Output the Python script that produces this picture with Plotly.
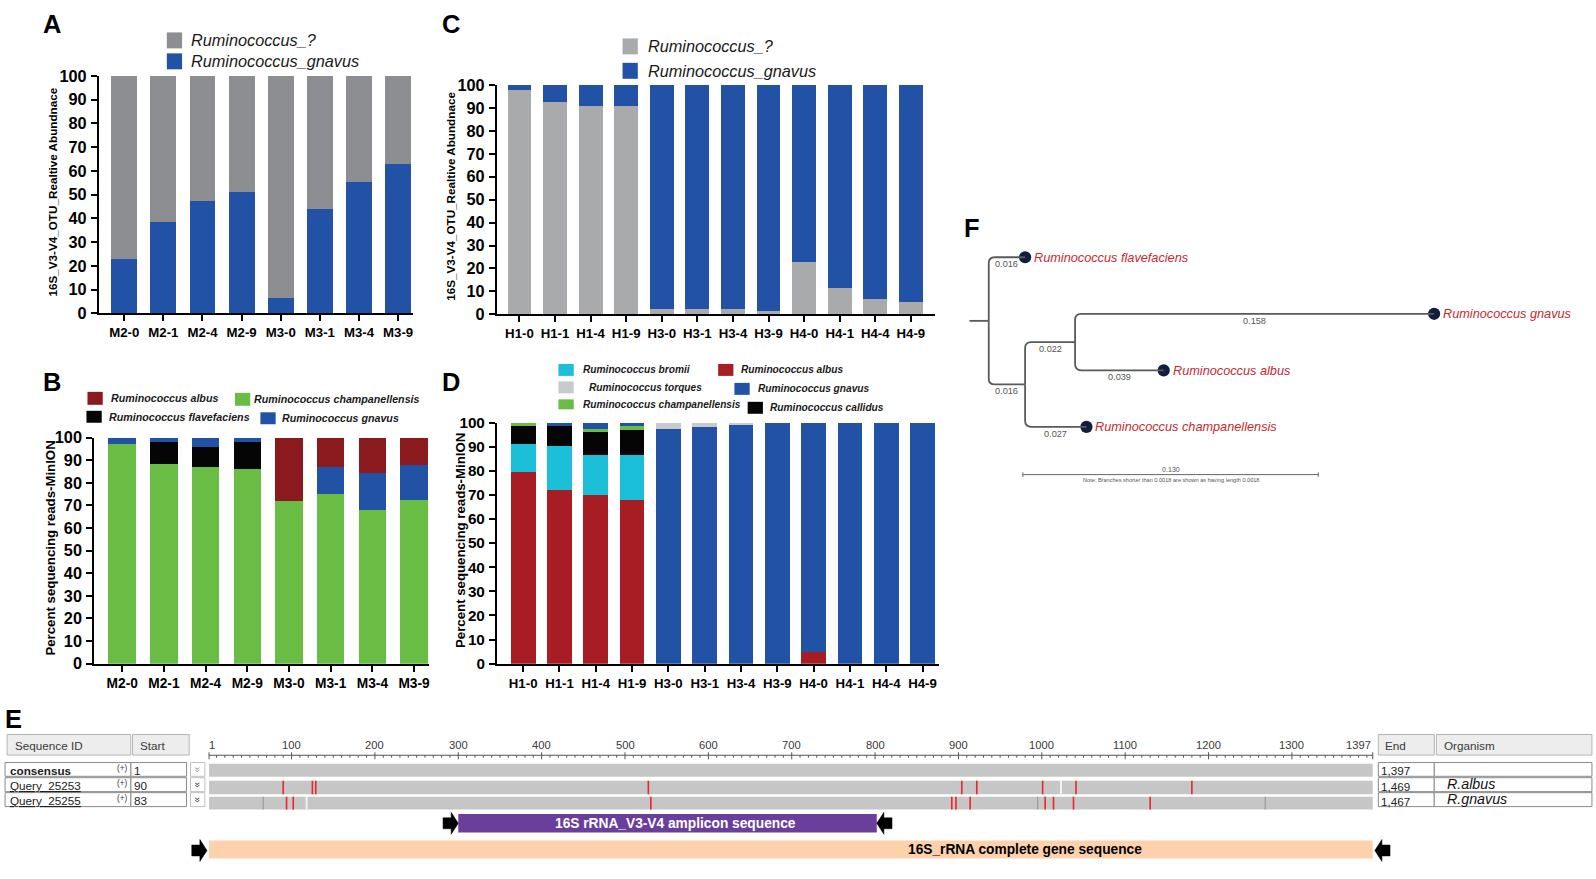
import plotly.graph_objects as go

# ====================== DATA ======================
# Panel A
a_samples = ["M2-0", "M2-1", "M2-4", "M2-9", "M3-0", "M3-1", "M3-4", "M3-9"]
a_gnavus = [23, 38.5, 47.5, 51, 6.5, 44, 55.5, 63]
a_unknown = [77, 61.5, 52.5, 49, 93.5, 56, 44.5, 37]

# Panel B
b_samples = ["M2-0", "M2-1", "M2-4", "M2-9", "M3-0", "M3-1", "M3-4", "M3-9"]
b_champ = [97, 88.5, 87, 86, 72, 75, 68, 72.5]
b_flav = [0, 9.5, 9, 12, 0, 0, 0, 0]
b_gnavus = [3, 2, 4, 2, 0, 12, 16.5, 15.5]
b_albus = [0, 0, 0, 0, 28, 13, 15.5, 12]

# Panel C
c_samples = ["H1-0", "H1-1", "H1-4", "H1-9", "H3-0", "H3-1", "H3-4", "H3-9",
             "H4-0", "H4-1", "H4-4", "H4-9"]
c_unknown = [98, 92.5, 91, 91, 2.5, 2.5, 2.5, 1.5, 23, 11.5, 6.5, 5.5]
c_gnavus = [2, 7.5, 9, 9, 97.5, 97.5, 97.5, 98.5, 77, 88.5, 93.5, 94.5]

# Panel D
d_samples = ["H1-0", "H1-1", "H1-4", "H1-9", "H3-0", "H3-1", "H3-4", "H3-9",
             "H4-0", "H4-1", "H4-4", "H4-9"]
d_albus = [79.5, 72, 70, 68, 0, 0, 0, 0, 5, 0, 0, 0]
d_bromii = [11.5, 18.5, 16.5, 18.5, 0, 0, 0, 0, 0, 0, 0, 0]
d_callidus = [7.5, 8, 9.5, 10.5, 0, 0, 0, 0, 0, 0, 0, 0]
d_champ = [1.5, 0, 1.5, 1.5, 0, 0, 0, 0, 0, 0, 0, 0]
d_gnavus = [0, 1.5, 2.5, 1.5, 97.5, 98, 99.5, 100, 95, 100, 100, 100]
d_torques = [0, 0, 0, 0, 2.5, 2, 0.5, 0, 0, 0, 0, 0]

# Panel F (tree)
tree_child = ["flav", "n2", "n3", "gnavus", "albus", "champ"]
tree_parent = ["root", "root", "n2", "n3", "n3", "n2"]
tree_len = [0.016, 0.016, 0.022, 0.158, 0.039, 0.027]
tree_leaves = ["flav", "gnavus", "albus", "champ"]
tree_leaf_labels = ["Ruminococcus flavefaciens", "Ruminococcus gnavus",
                    "Ruminococcus albus", "Ruminococcus champanellensis"]
tree_scale_bar = 0.130

# Panel E (alignment)
ruler_ticks = [1, 100, 200, 300, 400, 500, 600, 700, 800, 900, 1000, 1100, 1200, 1300, 1397]
aln_ids = ["consensus", "Query_25253", "Query_25255"]
aln_strand = ["(+)", "(+)", "(+)"]
aln_start = ["1", "90", "83"]
aln_end = ["1,397", "1,469", "1,467"]
aln_org = ["", "R.albus", "R.gnavus"]
aln_length = 1397
q1_mismatch = [90, 125, 129, 528, 904, 922, 1001, 1041, 1180]
q1_light = [1023]
q2_mismatch = [94, 102, 531, 892, 897, 914, 1004, 1014, 1038, 1130]
q2_dark = [66, 995, 1268]
q2_light = [118]
amplicon = [300, 802]
gene = [1, 1397]
gene_label_pos = 980

# ====================== HELPERS ======================
W, H = 1596, 879
VW = 1568.0
VH = H * VW / W
K = W / VW
FONT = "Liberation Sans, Arial, Helvetica, sans-serif"


def px(x):
    return x / VW


def py(y):
    return 1 - y / VH


def fs(s):
    return s * K


fig = go.Figure()
shapes = []
annos = []


def rect_paper(x0, y0, x1, y1, fill, line_color=None, lw=0):
    shapes.append(dict(type="rect", xref="paper", yref="paper",
                       x0=px(x0), x1=px(x1), y0=py(y1), y1=py(y0),
                       fillcolor=fill,
                       line=dict(color=line_color or fill, width=lw)))


def text_paper(x, y, text, size, color="black", xanchor="left", angle=0, yanchor="middle"):
    annos.append(dict(xref="paper", yref="paper", x=px(x), y=py(y), text=text,
                      showarrow=False, xanchor=xanchor, yanchor=yanchor,
                      textangle=angle,
                      font=dict(family=FONT, size=fs(size), color=color)))


# ====================== BAR PANELS ======================
def axref(n, kind):
    return kind if n == 1 else f"{kind}{n}"


def add_bar(n, cats, vals, color, width):
    fig.add_trace(go.Bar(x=cats, y=vals, width=width,
                         marker=dict(color=color, line=dict(width=0)),
                         xaxis=axref(n, "x"), yaxis=axref(n, "y"),
                         showlegend=False, hoverinfo="skip"))


GRAY_A = "#8d8e92"
GRAY_C = "#a8aaac"
BLUE = "#2152a6"
GREEN = "#69bd45"
ALBUS_B = "#8b1a1e"
ALBUS_D = "#a71d23"
BLACK = "#050505"
CYAN = "#1bbfd7"
TORQ = "#c9cacc"

add_bar(1, a_samples, a_gnavus, BLUE, 0.66)
add_bar(1, a_samples, a_unknown, GRAY_A, 0.66)

add_bar(2, b_samples, b_champ, GREEN, 0.66)
add_bar(2, b_samples, b_flav, BLACK, 0.66)
add_bar(2, b_samples, b_gnavus, BLUE, 0.66)
add_bar(2, b_samples, b_albus, ALBUS_B, 0.66)

add_bar(3, c_samples, c_unknown, GRAY_C, 0.67)
add_bar(3, c_samples, c_gnavus, BLUE, 0.67)

add_bar(4, d_samples, d_albus, ALBUS_D, 0.68)
add_bar(4, d_samples, d_bromii, CYAN, 0.68)
add_bar(4, d_samples, d_callidus, BLACK, 0.68)
add_bar(4, d_samples, d_champ, GREEN, 0.68)
add_bar(4, d_samples, d_gnavus, BLUE, 0.68)
add_bar(4, d_samples, d_torques, TORQ, 0.68)

bar_panels = [
    dict(n=1, xd=(97.3, 406), yd=(67.1, 305.2), xr=[-0.645, 7.38], yt=16, xt=13,
         title="16S_V3-V4_OTU_Realtive Abundnace", tx=52, tfs=11.5),
    dict(n=2, xd=(92.7, 421.8), yd=(430, 656.6), xr=[-0.67, 7.36], yt=16, xt=13.5,
         title="Percent sequencing reads-MinION", tx=50, tfs=13),
    dict(n=3, xd=(488.6, 919.6), yd=(76.3, 306.2), xr=[-0.63, 11.69], yt=16, xt=13,
         title="16S_V3-V4_OTU_Realtive Abundnace", tx=443.5, tfs=11.5),
    dict(n=4, xd=(488.6, 923), yd=(414.9, 656.6), xr=[-0.72, 11.45], yt=15, xt=13,
         title="Percent sequencing reads-MinION", tx=452, tfs=13),
]

layout_axes = {}
for p in bar_panels:
    n = p["n"]
    xn = "xaxis" if n == 1 else f"xaxis{n}"
    yn = "yaxis" if n == 1 else f"yaxis{n}"
    layout_axes[xn] = dict(domain=[px(p["xd"][0]), px(p["xd"][1])], anchor=axref(n, "y"),
                           type="category", range=p["xr"], showline=True,
                           linecolor="black", linewidth=2.2, ticks="outside", ticklen=6,
                           tickwidth=2, tickcolor="black", showgrid=False, zeroline=False,
                           tickfont=dict(family=FONT, size=fs(p["xt"]), color="black",
                                         weight="bold"),
                           fixedrange=True)
    layout_axes[yn] = dict(domain=[py(p["yd"][1]), py(p["yd"][0])], anchor=axref(n, "x"),
                           range=[0, 100], tick0=0, dtick=10, showline=True,
                           linecolor="black", linewidth=2.2, ticks="outside", ticklen=6,
                           tickwidth=2, tickcolor="black", showgrid=False, zeroline=False,
                           tickfont=dict(family=FONT, size=fs(p["yt"]), color="black",
                                         weight="bold"),
                           ticklabelstandoff=1, fixedrange=True)
    text_paper(p["tx"], (p["yd"][0] + p["yd"][1]) / 2 - 3, "<b>" + p["title"] + "</b>",
               p["tfs"], angle=-90, xanchor="center")


# Legends (manual)
def legend_item(xs, yc, color, label, size, sqw, sqh, tx, bold):
    rect_paper(xs, yc - sqh / 2, xs + sqw, yc + sqh / 2, color)
    t = f"<i>{label}</i>"
    if bold:
        t = f"<b>{t}</b>"
    text_paper(tx, yc, t, size, color="#1a1a1a")


legend_item(164, 31.5, GRAY_A, "Ruminococcus_?", 16, 15, 16, 185.5, False)
legend_item(164, 52.5, BLUE, "Ruminococcus_gnavus", 16, 15, 16, 185.5, False)

legend_item(612, 37.5, GRAY_C, "Ruminococcus_?", 16, 15, 16, 635, False)
legend_item(612, 62, BLUE, "Ruminococcus_gnavus", 16, 15, 16, 635, False)

legend_item(86, 390.5, ALBUS_B, "Ruminococcus albus", 10.5, 15, 13, 107, True)
legend_item(231, 391.5, GREEN, "Ruminococcus champanellensis", 10.5, 15, 13, 248, True)
legend_item(85, 409, BLACK, "Ruminococcus flavefaciens", 10.5, 15, 12, 105, True)
legend_item(256, 410.5, BLUE, "Ruminococcus gnavus", 10.5, 15, 12, 275, True)

legend_item(549, 362, CYAN, "Ruminococcus bromii", 10, 15, 12, 571, True)
legend_item(706, 362, ALBUS_D, "Ruminococcus albus", 10, 15, 12, 726, True)
legend_item(549, 379.5, TORQ, "Ruminococcus torques", 10, 15, 12, 577, True)
legend_item(722, 381, BLUE, "Ruminococcus gnavus", 10, 15, 12, 743, True)
legend_item(549, 396.5, GREEN, "Ruminococcus champanellensis", 10, 15, 10, 571, True)
legend_item(735, 400, BLACK, "Ruminococcus callidus", 10, 15, 12, 755, True)

# Panel letters
for letter, x, y in [("A", 40, 15), ("B", 40, 374), ("C", 433, 15), ("D", 433, 374),
                     ("E", 3, 712), ("F", 946, 220)]:
    text_paper(x, y, f"<b>{letter}</b>", 25)

# ====================== PANEL F: TREE ======================
T_X0 = 972.0      # view px of root
T_SC = 2234.0     # view px per substitution unit
T_Y0 = 249.0      # view px of first leaf
T_DY = 56.7       # view px between leaves

layout_axes["xaxis5"] = dict(domain=[0, 1], range=[(0 - T_X0) / T_SC, (VW - T_X0) / T_SC],
                             visible=False, anchor="y5", fixedrange=True)
layout_axes["yaxis5"] = dict(domain=[0, 1], range=[(VH - T_Y0) / T_DY, (0 - T_Y0) / T_DY],
                             visible=False, anchor="x5", fixedrange=True)

nx = {"root": 0.0}
for c, p, l in zip(tree_child, tree_parent, tree_len):
    nx[c] = nx[p] + l
children = {}
for c, p in zip(tree_child, tree_parent):
    children.setdefault(p, []).append(c)
ny = {leaf: float(i) for i, leaf in enumerate(tree_leaves)}


def gety(n):
    if n not in ny:
        ys = [gety(c) for c in children[n]]
        ny[n] = sum(ys) / len(ys)
    return ny[n]


gety("root")

rx = 6 / T_SC
ry = 6 / T_DY
BR = "#5a5a5a"
for c, p, l in zip(tree_child, tree_parent, tree_len):
    x0, y0, x1, y1 = nx[p], ny[p], nx[c], ny[c]
    s = 1 if y1 > y0 else -1
    path = (f"M{x0},{y0} L{x0},{y1 - s * ry} Q{x0},{y1} {x0 + rx},{y1} L{x1},{y1}")
    shapes.append(dict(type="path", xref="x5", yref="y5", path=path,
                       line=dict(color=BR, width=1.8)))
    annos.append(dict(xref="x5", yref="y5", x=(x0 + x1) / 2, y=y1, yshift=-7,
                      text=f"{l:.3f}", showarrow=False, xanchor="center", yanchor="middle",
                      font=dict(family=FONT, size=fs(9), color="#555555")))
# root stub
shapes.append(dict(type="line", xref="x5", yref="y5", x0=-19 / T_SC, x1=0,
                   y0=ny["root"], y1=ny["root"], line=dict(color=BR, width=1.8)))

fig.add_trace(go.Scatter(x=[nx[l] for l in tree_leaves], y=[ny[l] for l in tree_leaves],
                         mode="markers", xaxis="x5", yaxis="y5",
                         marker=dict(size=fs(12), color="#131d3f"),
                         showlegend=False, hoverinfo="skip"))
for leaf, lab in zip(tree_leaves, tree_leaf_labels):
    annos.append(dict(xref="x5", yref="y5", x=nx[leaf], y=ny[leaf], xshift=7,
                      text=f"<i>{lab}</i>", showarrow=False, xanchor="left", yanchor="middle",
                      font=dict(family=FONT, size=fs(12.5), color="#c7282e")))

# scale bar
sb_x0 = nx["n2"] - 0.001
sb_y = (467 - T_Y0) / T_DY
shapes.append(dict(type="line", xref="x5", yref="y5", x0=sb_x0, x1=sb_x0 + tree_scale_bar,
                   y0=sb_y, y1=sb_y, line=dict(color="#666666", width=1)))
for xe in (sb_x0, sb_x0 + tree_scale_bar):
    shapes.append(dict(type="line", xref="x5", yref="y5", x0=xe, x1=xe,
                       y0=sb_y - 0.04, y1=sb_y + 0.04, line=dict(color="#666666", width=1)))
annos.append(dict(xref="x5", yref="y5", x=sb_x0 + tree_scale_bar / 2, y=sb_y, yshift=5,
                  text=f"{tree_scale_bar:.3f}", showarrow=False, xanchor="center",
                  font=dict(family=FONT, size=fs(7), color="#555555")))
annos.append(dict(xref="x5", yref="y5", x=sb_x0 + tree_scale_bar / 2, y=sb_y, yshift=-5,
                  text="Note: Branches shorter than 0.0018 are shown as having length 0.0018",
                  showarrow=False, xanchor="center",
                  font=dict(family=FONT, size=fs(5.5), color="#555555")))

# ====================== PANEL E: ALIGNMENT ======================
E_X0 = 205.5      # view px of position 1
E_SC = 0.8195     # view px per base

layout_axes["xaxis6"] = dict(domain=[0, 1], range=[1 - E_X0 / E_SC, 1 + (VW - E_X0) / E_SC],
                             visible=False, anchor="y6", fixedrange=True)
layout_axes["yaxis6"] = dict(domain=[0, 1], range=[VH, 0], visible=False, anchor="x6",
                             fixedrange=True)


def rect6(x0, x1, y0, y1, fill):
    shapes.append(dict(type="rect", xref="x6", yref="y6", x0=x0, x1=x1, y0=y0, y1=y1,
                       fillcolor=fill, line=dict(width=0), layer="below"))


# header boxes
HDR_FILL = "#ededed"
HDR_LINE = "#b5b5b5"
for (x0, x1, lab, tx) in [(7, 128.5, "Sequence ID", 13), (130.3, 186, "Start", 136),
                          (1355, 1410, "End", 1360), (1412, 1565, "Organism", 1418)]:
    rect_paper(x0, 727.7, x1, 748.3, HDR_FILL, HDR_LINE, 1)
    text_paper(tx, 738.5, lab, 11.5, color="#3a3a3a")

# ruler
RUL_Y = 748.5
shapes.append(dict(type="line", xref="x6", yref="y6", x0=1, x1=aln_length, y0=RUL_Y, y1=RUL_Y,
                   line=dict(color="#555555", width=1)))
minor_path = " ".join(f"M{v},{RUL_Y} L{v},{RUL_Y + 2.5}" for v in range(10, aln_length, 10)
                      if v % 100 != 0)
shapes.append(dict(type="path", xref="x6", yref="y6", path=minor_path,
                   line=dict(color="#555555", width=1)))
major_path = " ".join(f"M{v},{RUL_Y - 3} L{v},{RUL_Y + 4}" for v in ruler_ticks)
shapes.append(dict(type="path", xref="x6", yref="y6", path=major_path,
                   line=dict(color="#555555", width=1)))
for v in ruler_ticks:
    anchor = "center"
    if v == ruler_ticks[0]:
        anchor = "left"
    if v == ruler_ticks[-1]:
        anchor = "right"
    annos.append(dict(xref="x6", yref="y6", x=v, y=738, text=str(v), showarrow=False,
                      xanchor=anchor, yanchor="middle", xshift=-2 if anchor == "left" else 0,
                      font=dict(family=FONT, size=fs(11), color="#3a3a3a")))

# rows
row_boxes = [(755.8, 769.6), (771.0, 785.0), (786.0, 800.0)]
row_bars = [(757, 770), (774, 787.5), (790, 803)]
ROW_GRAY = "#c6c6c6"
for i, (ident, strand, st, en, org) in enumerate(zip(aln_ids, aln_strand, aln_start,
                                                    aln_end, aln_org)):
    b0, b1 = row_boxes[i]
    yc = (b0 + b1) / 2
    rect_paper(5, b0, 128.7, b1, "white", "#8a8a8a", 1)
    rect_paper(128.7, b0, 183.4, b1, "white", "#8a8a8a", 1)
    rect_paper(187.3, b0, 201.4, b1, "white", "#c0c0c0", 1)
    rect_paper(1355, b0, 1410, b1, "white", "#8a8a8a", 1)
    rect_paper(1410, b0, 1565, b1, "white", "#8a8a8a", 1)
    lab = f"<b>{ident}</b>" if i == 0 else f"<u>{ident}</u>"
    text_paper(8, yc + 1, lab, 11.5, color="#222222")
    text_paper(127, yc - 1, strand, 8, color="#333333", xanchor="right")
    text_paper(129.5, yc + 1, st, 11.5, color="#222222")
    text_paper(194.3, yc, "»", 10, color="#999999" if i == 0 else "#444444",
               xanchor="center", angle=90)
    text_paper(1356, yc + 1.5, en, 11.5, color="#222222")
    if org:
        text_paper(1421, yc - 1, f"<i>{org}</i>", 14, color="#111111")
    y0, y1 = row_bars[i]
    rect6(1, aln_length, y0, y1, ROW_GRAY)


def tick_path(vals, y0, y1):
    return " ".join(f"M{v},{y0} L{v},{y1}" for v in vals)


def add_ticks(vals, row, color, width):
    y0, y1 = row_bars[row]
    shapes.append(dict(type="path", xref="x6", yref="y6", path=tick_path(vals, y0, y1),
                       line=dict(color=color, width=width)))


add_ticks(q1_light, 1, "#f2f2f2", 2)
add_ticks(q1_mismatch, 1, "#e8262b", 1.6)
add_ticks(q2_dark, 2, "#9a9a9a", 1.2)
add_ticks(q2_light, 2, "#f2f2f2", 2)
add_ticks(q2_mismatch, 2, "#e8262b", 1.6)

# feature bars
AMP_Y = (807.5, 826)
GENE_Y = (834, 852)
rect6(amplicon[0], amplicon[1], AMP_Y[0], AMP_Y[1], "#693f9b")
rect6(gene[0], gene[1], GENE_Y[0], GENE_Y[1], "#fdd1ab")
annos.append(dict(xref="x6", yref="y6", x=(amplicon[0] + amplicon[1]) / 2 + 10,
                  y=sum(AMP_Y) / 2, text="<b>16S rRNA_V3-V4 amplicon sequence</b>",
                  showarrow=False, font=dict(family=FONT, size=fs(13.5), color="white")))
annos.append(dict(xref="x6", yref="y6", x=gene_label_pos, y=sum(GENE_Y) / 2,
                  text="<b>16S_rRNA complete gene sequence</b>",
                  showarrow=False, font=dict(family=FONT, size=fs(13.5), color="black")))


def arrow(tip, yc, direction, extra=0.0):
    u = 1 / E_SC
    tip = tip + direction * extra * u
    base = tip - direction * 15 * u
    neck = tip - direction * 7 * u
    sh, hh = 5.5, 11
    pts = [(base, yc - sh), (neck, yc - sh), (neck, yc - hh), (tip, yc),
           (neck, yc + hh), (neck, yc + sh), (base, yc + sh)]
    path = "M" + " L".join(f"{a},{b}" for a, b in pts) + " Z"
    shapes.append(dict(type="path", xref="x6", yref="y6", path=path,
                       fillcolor="black", line=dict(color="black", width=0.5)))


arrow(amplicon[0], sum(AMP_Y) / 2, 1)
arrow(amplicon[1], sum(AMP_Y) / 2, -1)
arrow(gene[0], sum(GENE_Y) / 2 + 1, 1, extra=-2)
arrow(gene[1], sum(GENE_Y) / 2 + 1, -1, extra=-2)

# ====================== LAYOUT ======================
fig.update_layout(width=W, height=H, margin=dict(l=0, r=0, t=0, b=0),
                  paper_bgcolor="white", plot_bgcolor="rgba(0,0,0,0)",
                  barmode="stack", showlegend=False,
                  font=dict(family=FONT, color="black"),
                  shapes=shapes, annotations=annos, **layout_axes)

fig.write_html("out.html", config={"displayModeBar": False},
               post_script="document.body.style.margin='0px';"
                           "document.body.style.overflow='hidden';")
